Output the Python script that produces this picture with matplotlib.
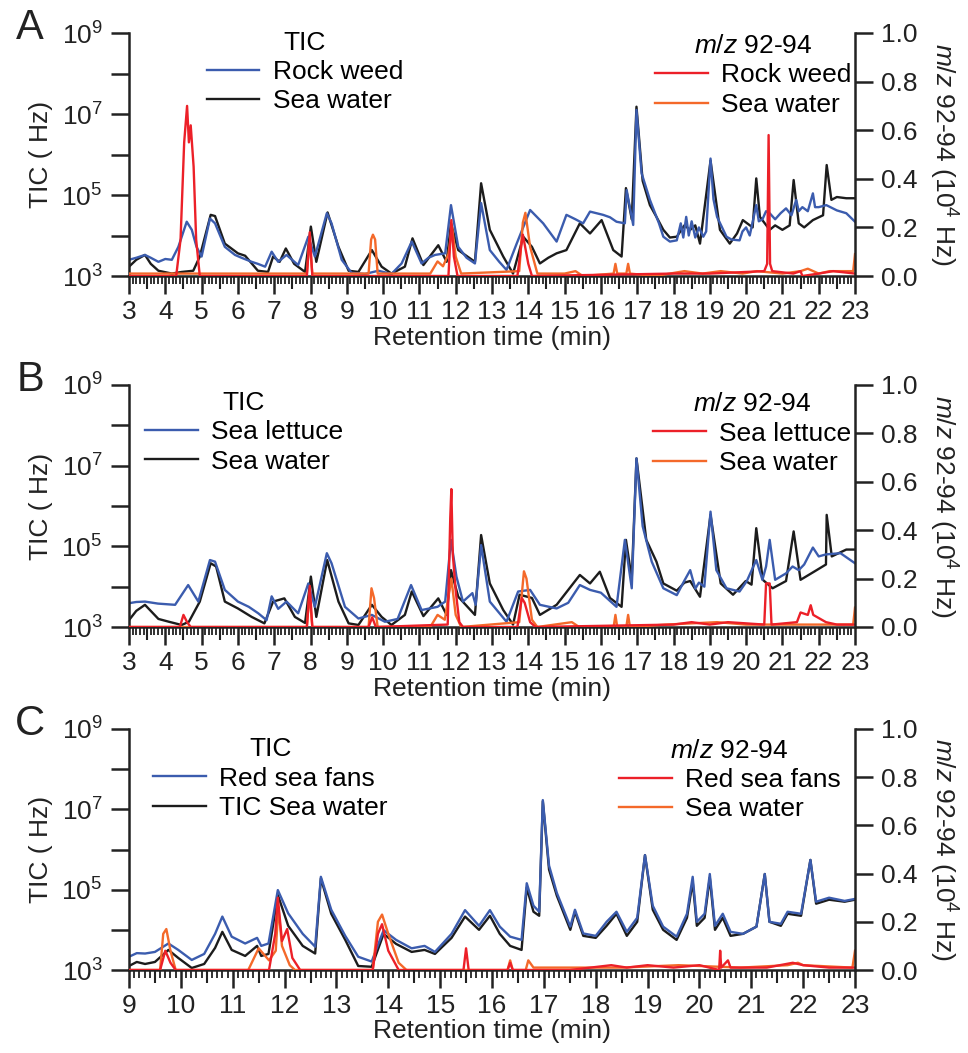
#!/usr/bin/env python3

import numpy as np
import matplotlib
matplotlib.use("Agg")
import matplotlib.pyplot as plt
from matplotlib.ticker import MultipleLocator, NullLocator

plt.rcParams['font.family'] = ['Liberation Sans', 'DejaVu Sans']
plt.rcParams['mathtext.fontset'] = 'custom'
plt.rcParams['mathtext.rm'] = 'Liberation Sans'
plt.rcParams['mathtext.it'] = 'Liberation Sans:italic'
plt.rcParams['mathtext.bf'] = 'Liberation Sans:bold'

# Colours
c_blue = "#3b5cae"
c_black = "#1c1c1c"
c_red = "#ec2028"
c_orange = "#f4692a"

# Each trace: (retention time [min], value)
# TIC traces are given as log10(Hz), m/z 92-94 traces in 10^4 Hz

# ---------------- Panel A: rock weed ----------------
tic_a_rock = [(3.0, 3.40), (3.2, 3.45), (3.44, 3.52), (3.6, 3.45), (3.81, 3.35), (4.0, 3.42),
              (4.18, 3.40), (4.36, 3.72), (4.59, 4.34), (4.73, 4.14), (4.86, 3.72), (5.0, 3.48),
              (5.23, 4.42), (5.37, 4.30), (5.64, 3.72), (5.92, 3.52), (6.1, 3.45), (6.38, 3.35),
              (6.55, 3.30), (6.75, 3.23), (6.93, 3.60), (7.11, 3.35), (7.34, 3.52), (7.66, 3.27),
              (7.94, 3.97), (8.12, 3.48), (8.45, 4.55), (8.58, 4.30), (8.86, 3.40), (9.13, 3.08),
              (9.5, 3.05), (9.87, 3.13), (10.23, 3.05), (10.51, 3.31), (10.79, 3.85), (11.06, 3.31),
              (11.25, 3.45), (11.43, 3.52), (11.71, 3.56), (11.87, 4.75), (12.07, 3.72),
              (12.3, 3.45), (12.53, 3.31), (12.70, 4.80), (12.94, 3.64), (13.2, 3.35), (13.40, 3.15),
              (13.68, 3.80), (14.05, 4.63), (14.41, 4.30), (14.78, 3.85), (15.05, 4.51),
              (15.3, 4.40), (15.51, 4.30), (15.70, 4.59), (16.06, 4.51), (16.25, 4.45),
              (16.43, 4.34), (16.66, 4.30), (16.71, 5.12), (16.89, 4.26), (16.98, 7.10),
              (17.12, 5.54), (17.35, 4.88), (17.6, 4.30), (17.72, 3.97), (17.9, 3.85), (18.09, 3.88),
              (18.2, 4.30), (18.27, 3.95), (18.35, 4.46), (18.42, 4.00), (18.5, 4.35), (18.6, 3.95),
              (18.7, 4.20), (18.82, 3.97), (18.9, 4.10), (19.02, 5.90), (19.1, 4.90), (19.2, 4.46),
              (19.46, 3.97), (19.6, 3.90), (19.82, 3.88), (19.9, 4.10), (20.0, 4.20), (20.1, 4.00),
              (20.28, 4.75), (20.35, 4.35), (20.45, 4.40), (20.55, 4.60), (20.65, 4.55),
              (20.8, 4.40), (20.95, 4.55), (21.10, 4.67), (21.25, 4.50), (21.38, 4.88),
              (21.45, 4.60), (21.55, 4.70), (21.7, 4.60), (21.84, 5.04), (21.9, 4.70), (22.0, 4.70),
              (22.21, 4.75), (22.5, 4.62), (22.76, 4.55), (23.0, 4.34)]
tic_a_water = [(3.0, 3.23), (3.2, 3.40), (3.44, 3.52), (3.6, 3.30), (3.81, 3.13), (4.18, 3.06),
               (4.45, 3.10), (4.77, 3.13), (4.95, 3.48), (5.25, 4.51), (5.37, 4.48), (5.64, 3.80),
               (6.0, 3.56), (6.2, 3.50), (6.55, 3.13), (6.83, 3.10), (6.97, 3.48), (7.15, 3.35),
               (7.32, 3.68), (7.55, 3.30), (7.85, 3.10), (8.01, 4.22), (8.16, 3.35), (8.47, 4.57),
               (8.77, 3.72), (9.05, 3.13), (9.32, 3.10), (9.69, 3.64), (9.96, 3.23), (10.23, 3.06),
               (10.6, 3.23), (10.81, 3.93), (11.11, 3.27), (11.52, 3.76), (11.75, 3.35),
               (11.87, 4.30), (12.07, 3.64), (12.53, 3.35), (12.70, 5.29), (12.94, 4.14),
               (13.31, 3.48), (13.58, 3.06), (13.86, 3.97), (14.1, 3.72), (14.32, 3.31),
               (14.55, 3.45), (14.78, 3.56), (15.05, 3.64), (15.42, 4.30), (15.7, 4.05),
               (16.02, 4.38), (16.34, 3.64), (16.57, 3.48), (16.69, 5.17), (16.85, 4.40),
               (16.98, 7.18), (17.15, 5.35), (17.35, 4.75), (17.53, 4.46), (17.72, 4.14),
               (17.9, 3.95), (18.09, 3.97), (18.3, 4.25), (18.46, 4.14), (18.6, 4.25), (18.73, 3.80),
               (19.02, 5.85), (19.28, 4.14), (19.55, 3.80), (19.75, 4.05), (19.91, 4.38),
               (20.18, 4.20), (20.28, 5.41), (20.38, 4.46), (20.65, 4.14), (20.8, 4.25),
               (21.0, 4.14), (21.2, 4.25), (21.31, 5.37), (21.45, 4.30), (21.6, 4.20), (21.84, 4.38),
               (22.12, 4.50), (22.22, 5.74), (22.35, 4.88), (22.5, 4.95), (22.76, 4.92), (23.0, 4.92)]
mz_a_rock = [(3.0, 0.0), (4.3, 0.0), (4.42, 0.15), (4.52, 0.55), (4.6, 0.70), (4.65, 0.55),
             (4.7, 0.62), (4.78, 0.45), (4.85, 0.15), (4.95, 0.0), (7.9, 0.0), (7.98, 0.18),
             (8.05, 0.0), (11.8, 0.0), (11.88, 0.23), (11.95, 0.08), (12.05, 0.0), (13.7, 0.0),
             (13.8, 0.12), (13.85, 0.17), (14.0, 0.05), (14.1, 0.0), (18.0, 0.01), (19.0, 0.01),
             (20.5, 0.02), (20.58, 0.05), (20.62, 0.58), (20.66, 0.05), (20.72, 0.02),
             (21.3, 0.01), (21.5, 0.02), (21.55, 0.0), (22.0, 0.01), (22.4, 0.02), (23.0, 0.01)]
mz_a_water = [(3.0, 0.01), (7.9, 0.01), (7.97, 0.15), (8.05, 0.01), (9.6, 0.01), (9.67, 0.15),
              (9.72, 0.17), (9.78, 0.15), (9.85, 0.01), (11.3, 0.01), (11.5, 0.06), (11.65, 0.04),
              (11.8, 0.09), (11.9, 0.20), (12.0, 0.08), (12.15, 0.01), (13.75, 0.02), (13.85, 0.22),
              (13.92, 0.26), (14.05, 0.12), (14.25, 0.01), (15.0, 0.01), (15.3, 0.02), (15.5, 0.0),
              (16.35, 0.01), (16.4, 0.05), (16.45, 0.01), (16.7, 0.01), (16.75, 0.05), (16.8, 0.01),
              (17.5, 0.0), (18.3, 0.02), (18.8, 0.01), (19.3, 0.02), (19.9, 0.01), (20.3, 0.02),
              (21.0, 0.01), (21.5, 0.02), (21.7, 0.03), (22.0, 0.01), (22.3, 0.02), (22.95, 0.02),
              (23.0, 0.09)]

# ---------------- Panel B: sea lettuce ----------------
tic_b_lettuce = [(3.0, 3.59), (3.2, 3.62), (3.44, 3.63), (3.8, 3.58), (4.27, 3.55), (4.63, 4.04),
                 (4.91, 3.63), (5.23, 4.66), (5.37, 4.62), (5.64, 3.92), (6.0, 3.63), (6.3, 3.50),
                 (6.56, 3.34), (6.79, 3.17), (6.93, 3.76), (7.11, 3.45), (7.34, 3.63), (7.66, 3.34),
                 (7.94, 4.08), (8.12, 3.50), (8.45, 4.83), (8.58, 4.58), (8.95, 3.50), (9.32, 3.21),
                 (9.69, 3.30), (10.05, 3.13), (10.4, 3.20), (10.77, 4.04), (11.06, 3.42),
                 (11.5, 3.50), (11.71, 3.63), (11.87, 5.16), (12.02, 4.25), (12.2, 3.63),
                 (12.46, 3.84), (12.55, 3.55), (12.70, 5.03), (12.94, 3.63), (13.40, 3.13),
                 (13.72, 3.88), (14.05, 3.92), (14.32, 3.55), (14.78, 3.46), (15.1, 3.60),
                 (15.42, 4.04), (15.7, 3.92), (16.0, 3.85), (16.43, 3.50), (16.66, 5.16),
                 (16.85, 3.96), (16.98, 7.18), (17.15, 5.50), (17.4, 4.62), (17.72, 3.96),
                 (18.09, 3.79), (18.3, 4.15), (18.46, 4.41), (18.6, 3.95), (18.7, 4.10),
                 (18.85, 4.00), (19.02, 5.86), (19.18, 4.41), (19.46, 3.96), (19.82, 3.88),
                 (20.02, 4.14), (20.15, 4.40), (20.28, 4.66), (20.45, 4.17), (20.55, 4.50),
                 (20.65, 5.16), (20.8, 4.17), (21.1, 4.33), (21.28, 4.50), (21.45, 4.41),
                 (21.6, 4.55), (21.84, 4.97), (22.0, 4.75), (22.2, 4.80), (22.6, 4.83), (23.0, 4.58)]
tic_b_water = [(3.0, 3.17), (3.2, 3.40), (3.44, 3.55), (3.81, 3.20), (4.1, 3.13), (4.45, 3.05),
               (4.65, 3.13), (4.95, 3.63), (5.25, 4.58), (5.4, 4.50), (5.64, 3.63), (6.0, 3.46),
               (6.38, 3.25), (6.73, 3.09), (6.97, 3.63), (7.28, 3.71), (7.57, 3.25), (7.85, 3.10),
               (8.01, 4.25), (8.16, 3.25), (8.46, 4.66), (8.77, 3.63), (9.05, 3.09), (9.32, 3.05),
               (9.69, 3.55), (9.96, 3.25), (10.23, 3.05), (10.6, 3.30), (10.79, 3.88), (11.11, 3.27),
               (11.52, 3.71), (11.75, 3.30), (11.87, 4.41), (12.07, 3.75), (12.53, 3.30),
               (12.70, 5.28), (12.94, 4.08), (13.31, 3.42), (13.58, 3.06), (13.76, 3.80),
               (14.1, 3.72), (14.32, 3.30), (14.78, 3.55), (15.42, 4.29), (15.7, 4.08),
               (15.97, 4.37), (16.25, 3.72), (16.57, 3.50), (16.69, 5.16), (16.85, 4.20),
               (16.98, 7.18), (17.25, 5.16), (17.53, 4.62), (17.72, 4.08), (18.09, 3.90),
               (18.3, 4.10), (18.46, 4.14), (18.73, 3.75), (19.02, 5.78), (19.3, 4.08),
               (19.64, 3.80), (19.99, 4.14), (20.15, 4.05), (20.28, 5.45), (20.46, 4.17),
               (20.73, 3.96), (21.1, 4.14), (21.31, 5.37), (21.5, 4.17), (21.87, 4.37),
               (22.2, 4.55), (22.22, 5.78), (22.36, 4.75), (22.76, 4.92), (23.0, 4.92)]
mz_b_lettuce = [(3.0, 0.0), (4.4, 0.0), (4.5, 0.05), (4.6, 0.02), (4.7, 0.0), (7.9, 0.0),
                (7.98, 0.17), (8.05, 0.0), (9.6, 0.0), (9.7, 0.04), (9.8, 0.0), (11.78, 0.01),
                (11.85, 0.45), (11.88, 0.57), (11.92, 0.30), (12.0, 0.15), (12.1, 0.02), (12.2, 0.0),
                (13.7, 0.0), (13.82, 0.12), (13.9, 0.10), (14.05, 0.02), (14.2, 0.0), (18.0, 0.01),
                (18.5, 0.02), (19.0, 0.01), (19.5, 0.02), (20.5, 0.01), (20.55, 0.18), (20.65, 0.18),
                (20.7, 0.01), (21.4, 0.02), (21.5, 0.06), (21.7, 0.05), (21.78, 0.09), (21.85, 0.05),
                (22.2, 0.02), (22.5, 0.01), (23.0, 0.01)]
mz_b_water = [(3.0, 0.0), (7.9, 0.0), (7.97, 0.14), (8.05, 0.0), (9.6, 0.0), (9.68, 0.16),
              (9.75, 0.12), (9.85, 0.0), (11.3, 0.0), (11.5, 0.05), (11.7, 0.03), (11.88, 0.20),
              (12.0, 0.05), (12.15, 0.0), (13.75, 0.02), (13.88, 0.23), (13.95, 0.20), (14.1, 0.03),
              (14.25, 0.0), (15.2, 0.02), (15.4, 0.0), (16.35, 0.0), (16.4, 0.05), (16.45, 0.0),
              (16.7, 0.0), (16.75, 0.05), (16.8, 0.0), (17.8, 0.01), (19.2, 0.02), (20.0, 0.01),
              (22.95, 0.01), (23.0, 0.08)]

# ---------------- Panel C: red sea fans ----------------
tic_c_fans = [(9.0, 3.33), (9.15, 3.42), (9.31, 3.41), (9.5, 3.45), (9.76, 3.66), (9.95, 3.50),
              (10.21, 3.25), (10.45, 3.40), (10.66, 3.90), (10.80, 4.33), (10.98, 3.83),
              (11.24, 3.66), (11.47, 3.80), (11.55, 3.60), (11.69, 3.66), (11.87, 4.99),
              (12.07, 4.41), (12.35, 3.90), (12.59, 3.58), (12.70, 5.32), (12.9, 4.50),
              (13.17, 3.85), (13.42, 3.33), (13.68, 3.21), (13.91, 3.99), (14.15, 3.75),
              (14.45, 3.54), (14.7, 3.60), (14.90, 3.45), (15.22, 3.90), (15.48, 4.49),
              (15.75, 4.10), (15.96, 4.49), (16.15, 4.08), (16.35, 3.83), (16.57, 3.75),
              (16.67, 5.16), (16.8, 4.60), (16.91, 4.45), (16.98, 7.23), (17.1, 5.60),
              (17.25, 4.92), (17.51, 4.08), (17.6, 4.50), (17.76, 3.91), (18.0, 3.85),
              (18.21, 4.20), (18.40, 4.45), (18.6, 3.95), (18.8, 4.30), (18.95, 5.86),
              (19.1, 4.60), (19.3, 4.08), (19.56, 3.83), (19.76, 4.40), (19.87, 5.32),
              (19.95, 4.20), (20.1, 4.40), (20.20, 5.39), (20.3, 4.10), (20.45, 4.40),
              (20.6, 3.95), (20.84, 3.90), (21.10, 4.08), (21.26, 5.39), (21.35, 4.20),
              (21.57, 4.15), (21.7, 4.45), (21.96, 4.40), (22.14, 5.74), (22.25, 4.70),
              (22.5, 4.80), (22.8, 4.72), (23.0, 4.77)]
tic_c_water = [(9.0, 3.10), (9.15, 3.20), (9.31, 3.15), (9.5, 3.20), (9.76, 3.50), (9.95, 3.30),
               (10.21, 3.05), (10.45, 3.15), (10.66, 3.55), (10.80, 3.95), (10.98, 3.50),
               (11.24, 3.35), (11.47, 3.60), (11.55, 3.35), (11.69, 3.40), (11.87, 4.87),
               (12.07, 4.10), (12.35, 3.60), (12.59, 3.41), (12.70, 5.28), (12.9, 4.40),
               (13.17, 3.75), (13.42, 3.10), (13.68, 3.08), (13.91, 3.90), (14.15, 3.65),
               (14.45, 3.45), (14.7, 3.50), (14.90, 3.40), (15.22, 3.80), (15.48, 4.33),
               (15.75, 4.00), (15.96, 4.35), (16.15, 3.90), (16.35, 3.60), (16.57, 3.50),
               (16.67, 5.05), (16.8, 4.45), (16.91, 4.35), (16.98, 7.20), (17.1, 5.50),
               (17.25, 4.85), (17.51, 4.00), (17.6, 4.45), (17.76, 3.85), (18.0, 3.80),
               (18.21, 4.10), (18.40, 4.40), (18.6, 3.85), (18.8, 4.20), (18.95, 5.86),
               (19.1, 4.50), (19.3, 4.00), (19.56, 3.75), (19.76, 4.30), (19.87, 5.20),
               (19.95, 4.10), (20.1, 4.30), (20.20, 5.30), (20.3, 4.00), (20.45, 4.30),
               (20.6, 3.85), (20.84, 3.90), (21.10, 4.08), (21.26, 5.39), (21.35, 4.20),
               (21.57, 4.10), (21.7, 4.40), (21.96, 4.35), (22.14, 5.74), (22.25, 4.65),
               (22.5, 4.75), (22.8, 4.70), (23.0, 4.75)]
mz_c_fans = [(9.0, 0.0), (9.6, 0.0), (9.7, 0.08), (9.8, 0.03), (9.9, 0.0), (11.7, 0.0),
             (11.82, 0.15), (11.87, 0.30), (11.95, 0.12), (12.05, 0.17), (12.15, 0.05), (12.3, 0.0),
             (13.7, 0.0), (13.8, 0.15), (13.88, 0.19), (14.0, 0.08), (14.2, 0.0), (15.45, 0.0),
             (15.5, 0.09), (15.55, 0.0), (16.3, 0.0), (16.35, 0.03), (16.4, 0.0), (17.5, 0.0),
             (18.3, 0.02), (18.6, 0.01), (19.0, 0.02), (19.5, 0.01), (20.0, 0.02), (20.38, 0.0),
             (20.4, 0.08), (20.42, 0.01), (20.55, 0.04), (20.6, 0.01), (21.3, 0.01), (21.8, 0.03),
             (22.0, 0.02), (22.5, 0.01), (23.0, 0.01)]
mz_c_water = [(9.0, 0.0), (9.6, 0.0), (9.66, 0.15), (9.72, 0.17), (9.8, 0.08), (9.9, 0.0),
              (11.3, 0.0), (11.5, 0.09), (11.7, 0.04), (11.83, 0.08), (11.88, 0.26), (11.95, 0.10),
              (12.1, 0.02), (12.2, 0.0), (13.7, 0.0), (13.8, 0.20), (13.88, 0.23), (14.0, 0.15),
              (14.2, 0.03), (14.35, 0.0), (16.3, 0.0), (16.35, 0.04), (16.4, 0.0), (16.65, 0.0),
              (16.7, 0.04), (16.8, 0.01), (18.5, 0.01), (19.6, 0.02), (20.8, 0.01), (21.7, 0.02),
              (21.9, 0.03), (22.0, 0.02), (22.95, 0.01), (23.0, 0.08)]

W, H = 968, 1053


def panel(fig, top_px, bot_px, letter, xlim, blue, black, red, orange, names, leg_pos):
    left_px, right_px = 129, 855
    rect = [left_px / W, 1 - bot_px / H, (right_px - left_px) / W, (bot_px - top_px) / H]
    ax = fig.add_axes(rect)
    ax2 = ax.twinx()

    tk, vk = zip(*black)
    tb, vb = zip(*blue)
    tr, vr = zip(*red)
    to, vo = zip(*orange)
    lk, = ax.plot(tk, 10 ** np.array(vk), color=c_black, lw=1.7)
    lb, = ax.plot(tb, 10 ** np.array(vb), color=c_blue, lw=1.7)
    lo, = ax2.plot(to, vo, color=c_orange, lw=1.7)
    lr, = ax2.plot(tr, vr, color=c_red, lw=1.7)

    ax.set_yscale("log")
    ax.set_ylim(1e3, 1e9)
    ax.set_xlim(*xlim)
    ax2.set_ylim(0, 1.0)

    ax.set_yticks([1e3, 1e4, 1e5, 1e6, 1e7, 1e8, 1e9])
    ax.set_yticklabels([r"$10^{3}$", "", r"$10^{5}$", "", r"$10^{7}$", "", r"$10^{9}$"])
    ax.yaxis.set_minor_locator(NullLocator())
    ax2.set_yticks([0, 0.2, 0.4, 0.6, 0.8, 1.0])
    ax2.set_yticklabels(["0.0", "0.2", "0.4", "0.6", "0.8", "1.0"])

    ax.xaxis.set_major_locator(MultipleLocator(1))
    ax.xaxis.set_minor_locator(MultipleLocator(0.1))

    for a in (ax, ax2):
        a.spines["top"].set_visible(False)
        for s in a.spines.values():
            s.set_linewidth(1.8)
            s.set_color("#222222")
    ax.spines["right"].set_visible(False)
    ax2.spines["left"].set_visible(False)
    ax2.spines["bottom"].set_visible(False)

    ax.tick_params(axis="y", which="major", length=13, width=1.8, labelsize=19, pad=6,
                   colors="#222222")
    ax2.tick_params(axis="y", which="major", length=13, width=1.8, labelsize=19, pad=6,
                    colors="#222222")
    ax.tick_params(axis="x", which="major", length=13, width=1.8, labelsize=19, pad=4,
                   colors="#222222")
    ax.tick_params(axis="x", which="minor", length=6, width=1.3, colors="#222222")

    # medium ticks at the half minutes
    sec = ax.secondary_xaxis("bottom")
    sec.set_xticks(np.arange(xlim[0] + 0.5, xlim[1], 1.0))
    sec.tick_params(length=9, width=1.5, labelbottom=False, colors="#222222")
    sec.spines["bottom"].set_visible(False)

    ax.set_xlabel("Retention time (min)", fontsize=19, color="#222222")
    ax.xaxis.set_label_coords(0.5, -0.205)
    ax.set_ylabel("TIC ( Hz)", fontsize=19, color="#222222")
    ax.yaxis.set_label_coords(-0.105, 0.5)
    ax2.set_ylabel(r"$m/z$ 92-94 (10$^{4}$ Hz)", fontsize=19, rotation=270, va="center",
                   color="#222222")
    ax2.yaxis.set_label_coords(1.121, 0.5)

    leg1 = ax2.legend([lb, lk], names[0:2], title="TIC", loc="upper left",
                      bbox_to_anchor=leg_pos[0], frameon=False, fontsize=19,
                      title_fontsize=19, handlelength=2.0, handletextpad=0.5,
                      labelspacing=0.2, borderpad=0, borderaxespad=0)
    ax2.add_artist(leg1)
    ax2.legend([lr, lo], names[2:4], title=r"$m/z$ 92-94", loc="upper right",
               bbox_to_anchor=leg_pos[1], frameon=False, fontsize=19,
               title_fontsize=19, handlelength=2.0, handletextpad=0.5,
               labelspacing=0.2, borderpad=0, borderaxespad=0)

    fig.text(30 / W, 1 - (top_px - 5) / H, letter, fontsize=30, ha="center", va="center",
             color="#222222")
    return ax


def main():
    fig = plt.figure(figsize=(W / 100, H / 100), dpi=100)

    panel(fig, 33, 276, "A", (3, 23), tic_a_rock, tic_a_water, mz_a_rock, mz_a_water,
          ["Rock weed", "Sea water", "Rock weed", "Sea water"],
          [(0.107, 1.01), (0.995, 0.995)])
    panel(fig, 385, 627, "B", (3, 23), tic_b_lettuce, tic_b_water, mz_b_lettuce, mz_b_water,
          ["Sea lettuce", "Sea water", "Sea lettuce", "Sea water"],
          [(0.022, 0.975), (0.995, 0.97)])
    panel(fig, 729, 970, "C", (9, 23), tic_c_fans, tic_c_water, mz_c_fans, mz_c_water,
          ["Red sea fans", "TIC Sea water", "Red sea fans", "Sea water"],
          [(0.033, 0.965), (0.98, 0.96)])

    fig.savefig("out.png", dpi=100)


if __name__ == "__main__":
    main()
